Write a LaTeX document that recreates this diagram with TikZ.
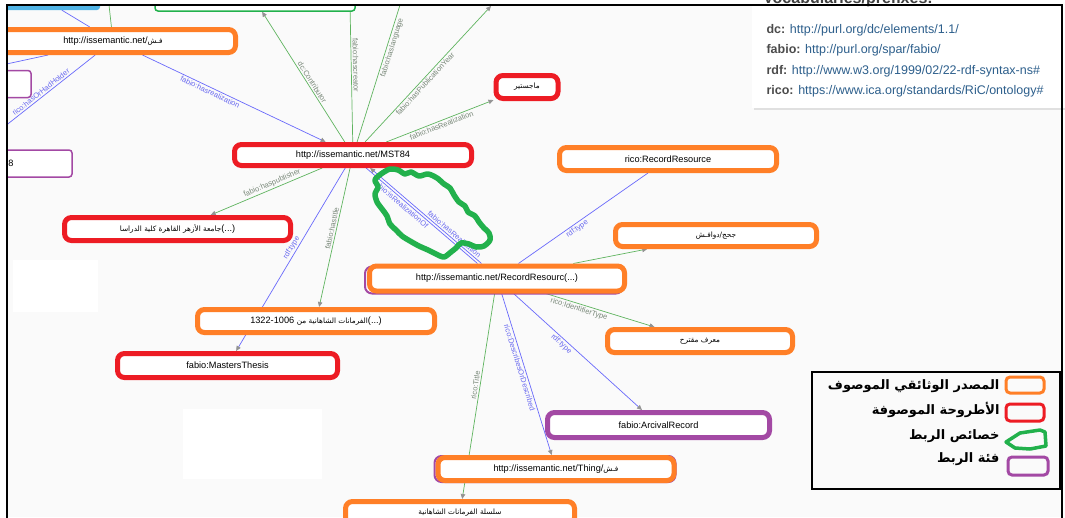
\documentclass[tikz,border=0pt]{standalone}
\usepackage{fontspec}
\setmainfont{Liberation Sans}
\newfontfamily\arabicfont[Script=Arabic]{DejaVu Sans}
\newfontfamily\arabicsmall[Script=Arabic,Scale=0.8]{DejaVu Sans}
\TeXXeTstate=1
\usetikzlibrary{arrows.meta}
\pgfdeclarelayer{bgl}
\pgfdeclarelayer{edges}
\pgfsetlayers{bgl,edges,main}
\definecolor{ora}{RGB}{255,127,39}
\definecolor{rd}{RGB}{237,28,36}
\definecolor{pur}{RGB}{163,73,164}
\definecolor{grn}{RGB}{34,177,76}
\definecolor{gline}{RGB}{95,180,95}
\definecolor{bline}{RGB}{105,105,250}
\definecolor{glabc}{RGB}{120,135,120}
\definecolor{blabc}{RGB}{105,105,240}
\definecolor{urlc}{RGB}{45,95,140}
\definecolor{bgc}{RGB}{250,250,250}
\definecolor{lblue}{RGB}{80,180,230}
\newcommand{\ar}[1]{{\arabicsmall\beginR #1\endR}}
\tikzset{
  box/.style={draw, line width=5pt, rounded corners=7pt, fill=white, inner sep=0pt, font=\fontsize{9.2}{10}\selectfont},
  obox/.style={box, draw=ora},
  rbox/.style={box, draw=rd},
  pbox/.style={box, draw=pur},
  thinp/.style={draw=pur, line width=1.5pt, rounded corners=3pt, fill=white, inner sep=0pt, font=\fontsize{9.2}{10}\selectfont},
  gedge/.style={draw=gline, line width=0.7pt},
  bedge/.style={draw=bline, line width=0.7pt},
  arr/.style={-{Triangle[length=5pt,width=4.5pt,color=gray!85]}},
  glab/.style={font=\fontsize{7.5}{8}\selectfont, text=glabc, sloped, inner sep=1.5pt},
  blab/.style={font=\fontsize{7.5}{8}\selectfont, text=blabc, sloped, inner sep=1.5pt},
  legtxt/.style={anchor=east, font=\arabicfont\bfseries\fontsize{13}{15}\selectfont},
  voc/.style={anchor=base west, font=\fontsize{12.5}{14}\selectfont},
}
\begin{document}
\begin{tikzpicture}[x=1pt,y=-1pt]
\useasboundingbox (0,0) rectangle (1065,517);
\clip (0,0) rectangle (1065,517);
\begin{pgfonlayer}{bgl}
\fill[white] (0,0) rectangle (1065,517);
\fill[bgc] (6.5,5) rectangle (1062,517);
\fill[white] (13,260) rectangle (98,312);
\fill[white] (183,409) rectangle (322,479);
\end{pgfonlayer}

\coordinate (cTop2) at (350,5);
\coordinate (cTop3) at (400,5);
\coordinate (cTop4) at (491,6);
\coordinate (cTop5) at (109,5);
\coordinate (lh) at (6.5,125);
\coordinate (l2) at (6.5,64);

\begin{scope}
\clip (6.5,5) rectangle (1062,517);
% top partial boxes
\node[fill=lblue, rounded corners=3pt, minimum width=110pt, minimum height=20pt, inner sep=0pt] (topb) at (45,0) {};
\node[draw=grn, line width=1.5pt, rounded corners=3pt, fill=white, minimum width=200pt, minimum height=21pt, inner sep=0pt] (topg) at (255,0.5) {};
% nodes
\node[obox, minimum width=245pt, minimum height=23pt] (fsh) at (113,41) {http://issemantic.net/\ar{فـش}};
\node[thinp, minimum width=52pt, minimum height=27pt] (p1) at (5,84) {};
\node[thinp, minimum width=104pt, minimum height=27pt] (p8) at (20,163.5) {};
\node[font=\fontsize{9.2}{10}\selectfont, inner sep=0pt] (p8t) at (11,163.5) {8};
\node[rbox, minimum width=237pt, minimum height=21pt] (mst) at (353,155) {http://issemantic.net/MST84};
\node[rbox, minimum width=62pt, minimum height=23pt] (mag) at (527,87) {\ar{ماجستير}};
\node[obox, minimum width=217pt, minimum height=23pt] (ricoRR) at (668,159) {rico:RecordResource};
\node[rbox, minimum width=226pt, minimum height=23pt] (azhar) at (177.5,229) {\ar{جامعة الأزهر القاهرة كلية الدراسا}(...)};
\node[obox, minimum width=201pt, minimum height=22pt] (jrj) at (716,235.5) {\ar{جحج/دوافـش}};
\node[pbox, line width=2pt, minimum width=258pt, minimum height=27pt] (rrp) at (494,280) {};
\node[obox, minimum width=255pt, minimum height=25pt] (rr) at (497,278.5) {http://issemantic.net/RecordResourc(...)};
\node[obox, minimum width=237pt, minimum height=23pt] (firman) at (316,321) {1322-1006 \ar{الفرمانات الشاهانية من}(...)};
\node[rbox, minimum width=220pt, minimum height=24pt] (thesis) at (227.5,365.5) {fabio:MastersThesis};
\node[obox, minimum width=185pt, minimum height=23pt] (mq) at (700,341) {\ar{معرف مقترح}};
\node[pbox, minimum width=222pt, minimum height=25pt] (arc) at (658.5,425) {fabio:ArcivalRecord};
\node[pbox, line width=2pt, minimum width=241pt, minimum height=26pt] (thingp) at (555,469) {};
\node[obox, minimum width=236pt, minimum height=23pt] (thing) at (556,469) {http://issemantic.net/Thing/\ar{فـش}};
\node[obox, minimum width=229pt, minimum height=23pt] (silsila) at (460,513) {\ar{سلسلة الفرمانات الشاهانية}};
\end{scope}

% edges
\begin{pgfonlayer}{edges}
\draw[bedge] (topb) -- (fsh);
\draw[gedge] (cTop5) -- (fsh);
\draw[bedge] (l2) -- (fsh);
\draw[gedge,arr] (mst) -- node[glab,above,pos=0.44]{dc:Contributor} (topg);
\draw[gedge] (mst) -- node[glab,above,pos=0.56]{fabio:hascreator} (cTop2);
\draw[gedge] (mst) -- node[glab,below,pos=0.7]{fabio:haslanguage} (cTop3);
\draw[gedge,arr] (mst) -- node[glab,below,pos=0.45]{fabio:hasPublicationYear} (cTop4);
\draw[gedge,arr] (mst) -- node[glab,below,pos=0.5]{fabio:hasRealization} (mag);
\draw[bedge,arr] (fsh) -- node[blab,below,pos=0.38]{fabio:hasrealization} (mst);
\draw[bedge] (fsh) -- node[blab,above,pos=0.58]{rico:hasOrHadHolder} (lh);
\draw[gedge,arr] (mst) -- node[glab,above,pos=0.43]{fabio:haspublisher} (azhar);
\draw[bedge,arr] (mst) -- node[blab,above,pos=0.45]{rdf:type} (thesis);
\draw[gedge,arr] (mst) -- node[glab,above,pos=0.44]{fabio:hastitle} (firman);
\draw[bedge,arr,transform canvas={xshift=2pt}] (rr) -- node[blab,above,pos=0.27]{fabio:hasRealization} (mst);
\draw[bedge,transform canvas={xshift=-2pt}] (rr) -- node[blab,below,pos=0.66]{fabio:isRealizationOf} (mst);
\draw[bedge] (rr) -- node[blab,below,pos=0.43]{rdf:type} (ricoRR);
\draw[gedge,arr] (rr) -- (jrj);
\draw[gedge,arr] (rr) -- node[glab,below,pos=0.32]{rico:IdentifierType} (mq);
\draw[bedge,arr] (rr) -- node[blab,below,pos=0.4]{rdf:type} (arc);
\draw[bedge,arr] (rr) -- node[blab,below,pos=0.45]{rico:DescribesOrDescribed} (thing);
\draw[gedge,arr] (rr) -- node[glab,above,pos=0.45]{rico:Title} (silsila);
\end{pgfonlayer}

% green hand-drawn cloud
\draw[grn, line width=5.5pt, line join=round] plot[smooth cycle, tension=0.5] coordinates {
 (381,174) (390,169) (398,170) (405,174) (411,172) (419,176) (428,174) (437,178) (444,184) (450,188) (454,195) (459,202) (465,206) (468,212) (475,216) (479,222) (484,228) (489,233) (490,240) (484,246) (476,247) (469,244) (461,243) (456,248) (451,252) (444,257) (436,254) (428,250) (419,246) (410,241) (402,236) (396,230) (390,224) (387,216) (382,209) (377,202) (375,194) (378,187) (375,180)};

% legend
\draw[line width=2pt] (812,372) rectangle (1060,489);
\node[legtxt] (lg1) at (1003,386) {\beginR المصدر الوثائقي الموصوف\endR};
\node[legtxt] (lg2) at (1003,410) {\beginR الأطروحة الموصوفة\endR};
\node[legtxt] (lg3) at (1003,436) {\beginR خصائص الربط\endR};
\node[legtxt] (lg4) at (1003,459) {\beginR فئة الربط\endR};
\draw[ora, line width=3pt, rounded corners=4pt] (1006,377) rectangle (1044,393);
\draw[rd, line width=3pt, rounded corners=4pt] (1006,404) rectangle (1044,421);
\draw[grn, line width=3.5pt, line join=round] (1006,442) -- (1020,433) -- (1040,430) -- (1045,432) -- (1046,446) -- (1030,449) -- (1015,448) -- cycle;
\draw[pur, line width=3pt, rounded corners=4pt] (1008,457) rectangle (1048,475);

% vocabularies panel
\fill[black!12] (754,-10) rectangle (1078,110);
\fill[white] (752,-10) rectangle (1075,107.5);
\begin{scope}
\clip (740,-10) rectangle (1061,120);
\node[anchor=base west, font=\bfseries\fontsize{16}{18}\selectfont, text=black!75, inner sep=0pt] (vh) at (763,3) {Vocabularies/prefixes:};
\node[voc] (v1) at (763,33) {\textcolor{black!70}{\textbf{dc:}} \textcolor{urlc}{http://purl.org/dc/elements/1.1/}};
\node[voc] (v2) at (763,53) {\textcolor{black!70}{\textbf{fabio:}} \textcolor{urlc}{http://purl.org/spar/fabio/}};
\node[voc] (v3) at (763,74) {\textcolor{black!70}{\textbf{rdf:}} \textcolor{urlc}{http://www.w3.org/1999/02/22-rdf-syntax-ns\#}};
\node[voc] (v4) at (763,94) {\textcolor{black!70}{\textbf{rico:}} \textcolor{urlc}{https://www.ica.org/standards/RiC/ontology\#}};
\end{scope}

% frame
\draw[line width=2pt] (6.5,520) -- (6.5,5) -- (1062,5) -- (1062,520);
\end{tikzpicture}
\end{document}
